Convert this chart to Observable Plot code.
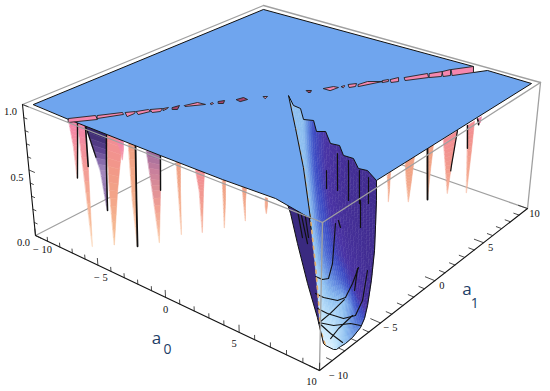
<!doctype html>
<html><head><meta charset="utf-8">
<script src="https://cdn.jsdelivr.net/npm/d3@7"></script>
<script src="https://cdn.jsdelivr.net/npm/@observablehq/plot@0.6"></script>
<style>html,body{margin:0;background:#fff}svg{display:block}</style></head>
<body><div id="chart"></div>
<script>
// ---------- data (a0, a1, z) ----------
const plateA0=[-9.55,-9.52,5.90,6.36,6.83,9.68,9.58,8.67,8.21,7.40,6.83,6.03,5.54,4.52,4.16,3.24,2.76,1.79,1.26,0.24,3.11,6.10,9.37,7.01,3.90,-0.10,-6.69];
const plateA1=[-9.63,9.42,9.66,8.89,9.65,9.56,-5.27,-4.71,-4.81,-4.10,-4.14,-3.38,-3.48,-2.53,-2.82,-1.87,-2.10,-1.12,-1.05,-0.20,-3.21,-6.38,-10.05,-9.60,-9.73,-9.75,-9.74];

// slit blobs on the plate: four (a0,a1) corners per blob
const slit=[
[-6.78,-9.66,-5.97,-8.53,-5.53,-8.80,-6.42,-9.99],
[-5.89,-8.46,-5.15,-7.38,-4.93,-7.52,-5.62,-8.72],
[-5.03,-7.28,-4.71,-6.87,-4.57,-7.08,-4.59,-7.57],
[-4.67,-6.83,-4.36,-6.26,-4.10,-6.37,-4.32,-7.03],
[-4.28,-6.19,-3.87,-5.70,-3.69,-6.04,-3.93,-6.39],
[-3.83,-5.67,-3.72,-5.41,-3.67,-5.54,-3.66,-5.85],
[-3.55,-5.28,-3.44,-4.86,-3.17,-5.30,-3.38,-5.46],
[-3.23,-4.69,-2.96,-3.97,-2.46,-3.89,-3.11,-4.75],
[-2.34,-3.63,-2.34,-3.47,-2.21,-3.53,-2.21,-3.69],
[-2.18,-3.17,-2.01,-2.87,-1.80,-3.20,-2.00,-3.36],
[-1.60,-2.37,-1.48,-1.93,-1.14,-1.99,-1.26,-2.43],
[-0.73,-1.15,-0.56,-1.01,-0.52,-1.15,-0.48,-1.29],
[0.58,0.95,0.79,1.12,0.91,0.87,0.83,0.80],
[1.14,1.75,1.40,2.31,1.69,2.38,1.60,1.77],
[1.74,2.59,1.79,2.81,1.87,2.70,1.91,2.55],
[1.87,3.06,2.14,3.45,2.34,3.08,2.16,2.76],
[2.30,3.41,2.45,4.06,3.10,4.59,2.47,3.18],
[3.02,4.70,3.19,5.03,3.35,4.80,3.18,4.47],
[3.28,5.10,3.47,5.62,3.79,5.15,3.56,4.79],
[3.73,5.83,4.42,7.13,4.78,6.68,4.01,5.51],
[4.51,7.20,4.92,7.91,5.26,7.26,4.82,6.71],
[4.92,7.91,5.12,8.45,5.58,7.70,5.35,7.33],
[5.16,8.48,5.90,9.66,6.36,8.89,5.67,7.77]];
const slitDark=[6,9,10,12];   // blobs that read as dark rose

// spikes on the a1=-9.6 edge: top-left, top-right, waist-left, waist-right, tip as (a0,z)
const spikesLeft=[
[-6.86,.99,-6.18,.99,-6.64,.80,-6.32,.81,-6.54,.56],
[-6.18,.99,-5.58,.99,-6.01,.64,-5.62,.65,-5.78,.08],
[-5.58,.99,-4.04,.99,-4.69,.69,-4.23,.71,-4.37,.41],
[-4.04,.99,-2.88,.99,-4.11,.57,-3.50,.59,-4.03,.17],
[-3.31,.98,-2.82,.98,-3.08,.91,-2.86,.92,-2.98,.84],
[-2.46,.99,-1.96,1.0,-2.43,.57,-2.14,.58,-2.27,.24],
[-1.21,.98,-.25,.99,-.94,.70,-.37,.73,-.64,.34],
[.82,.99,1.09,.99,.87,.78,1.01,.79,.95,.47],
[2.07,.99,2.65,.99,2.28,.84,2.55,.86,2.38,.55],
[3.79,.99,3.98,.99,3.82,.84,3.95,.85,3.84,.65],
[5.03,.99,5.27,.99,5.08,.90,5.20,.90,5.18,.76],
[6.42,.98,6.54,.98,6.41,.92,6.53,.93,6.47,.87]];
// spikes on the a0=9.6 edge, as (a1,z)
const spikesRight=[
[-4.39,.99,-4.13,1.0,-4.23,.87,-4.15,.87,-4.19,.79],
[-2.86,1.0,-2.07,1.0,-2.68,.86,-2.22,.84,-2.39,.69],
[-.91,1.0,-.36,1.0,-.78,.83,-.49,.82,-.60,.61],
[.58,.99,1.91,.99,.95,.78,1.56,.75,1.35,.55],
[2.90,.98,3.61,.98,3.10,.78,3.53,.76,3.35,.45],
[3.91,.98,4.31,.98,4.04,.95,4.26,.94,4.07,.93]];
const spikeKindLeft=[0,0,2,4,0,3,1,3,4,3,3,3];
const spikeKindRight=[3,3,3,4,4,0];

// the pit: 8 rows x 7 columns
const pitZ=[1,.85,.7,.5,.3,.18,.1,.03];
const pitA0=[
[.32,2.22,2.86,4.08,6.18,7.72,9.47],
[1.61,3.10,3.86,5.17,7.03,8.33,9.54],
[3.35,3.86,4.62,5.88,7.47,8.62,9.75],
[5.22,5.30,5.62,6.30,7.52,8.52,9.57],
[6.59,6.53,6.44,6.84,7.64,8.55,9.58],
[7.72,7.48,7.13,7.48,8.15,9.00,9.87],
[8.78,8.57,8.31,8.09,8.63,9.35,9.85],
[9.22,9.72,9.83,9.84,9.88,9.85,9.66]];
const pitA1=[
[-.30,-1.42,-1.39,-1.97,-3.26,-4.12,-5.11],
[-1.32,-2.45,-2.59,-3.29,-4.29,-4.84,-5.14],
[-2.84,-3.15,-3.39,-4.03,-4.75,-5.10,-5.44],
[-4.63,-4.57,-4.31,-4.29,-4.59,-4.79,-5.17],
[-5.96,-5.64,-4.85,-4.54,-4.51,-4.75,-5.35],
[-7.16,-6.44,-5.31,-5.03,-5.09,-5.58,-6.02],
[-8.36,-7.44,-6.53,-5.57,-5.71,-6.27,-6.21],
[-8.52,-8.54,-8.45,-8.14,-7.79,-7.18,-6.25]];
const pitShade=[
[.60,.60,.20,.10,.04,.02,.01],
[.60,.60,.20,.10,.04,.02,.01],
[.62,.58,.22,.10,.04,.02,.01],
[.66,.58,.26,.12,.05,.03,.01],
[.72,.60,.32,.16,.08,.05,.02],
[.80,.68,.45,.30,.16,.10,.05],
[.86,.78,.70,.60,.46,.32,.20],
[.95,.90,.82,.72,.62,.52,.42]];

const wallA0=[3.98,2.91,4.11,6.24,8.85,10.90,12.30];
const wallA1=[-3.88,-3.78,-4.86,-6.98,-9.52,-11.44,-12.83];
const wallZ=.5;

// black creases on the pit walls, pairs of (a0,a1) at z=.5
const creases=[
[4.19,-4.39,6.08,-6.38],[4.31,-4.30,6.63,-6.68],[4.47,-4.17,6.31,-6.19],[4.76,-4.21,6.00,-5.56],
[2.65,.10,3.91,-1.56],[1.87,2.14,4.50,-1.37],[2.87,1.83,5.60,-1.89],[4.05,1.23,6.24,-1.80],
[4.92,.87,6.60,-1.50],[6.45,-3.91,6.95,-4.41],[6.09,-1.50,7.73,-3.78],[9.89,-7.02,10.90,-8.64]];
// mesh curves on the pit floor, (a0,a1) at z=.15
const mesh=[
[6.03,-5.20,6.48,-5.21,6.66,-4.94,5.95,-3.66,3.56,-.22],
[6.99,-6.45,7.53,-6.49,8.23,-6.27,8.38,-5.81,7.90,-4.56,7.24,-3.13],
[7.89,-7.45,8.53,-7.49,9.40,-7.35,9.70,-6.78,9.20,-5.50,7.77,-3.07],
[8.66,-8.37,9.38,-8.12,9.92,-7.48,10.39,-7.32],
[8.75,-8.41,9.67,-8.74,10.55,-8.97],
[9.59,-6.87,9.72,-8.17,9.92,-9.07],
[8.45,-6.00,8.64,-7.40,8.70,-8.40]];
const meshZ=.15;

const a0Ticks=[-10,-5,0,5,10];
const a1Ticks=[-10,-5,0,5,10];
const zTicks=[0,.5,1];

// ---------- box projection ----------
function homog(q){
 const [[x0,y0],[x1,y1],[x2,y2],[x3,y3]]=q;
 const dx1=x1-x2,dx2=x3-x2,sx=x0-x1+x2-x3,dy1=y1-y2,dy2=y3-y2,sy=y0-y1+y2-y3;
 const d=dx1*dy2-dx2*dy1,g=(sx*dy2-dx2*sy)/d,h=(dx1*sy-sx*dy1)/d;
 const a=x1-x0+g*x1,b=x3-x0+h*x3,c=x0,e=y1-y0+g*y1,f=y3-y0+h*y3,i=y0;
 return (u,v)=>{const w=g*u+h*v+1;return[(a*u+b*v+c)/w,(e*u+f*v+i)/w]};
}
const H1=homog([[22,104],[322,222],[540,82],[263,5]]),H0=homog([[35,235],[319,370],[527,208],[265,117]]);
function P(a0,a1,z){const u=(a0+10)/20,v=(a1+10)/20,p=H0(u,v),q=H1(u,v);return[p[0]+(q[0]-p[0])*z,p[1]+(q[1]-p[1])*z]}

const poly=pts=>({type:"Polygon",coordinates:[[...pts,pts[0]]]});
const path=pts=>({type:"LineString",coordinates:pts});
const mix=(a,b,t)=>a+(b-a)*t;
const mixP=(a,b,t)=>[mix(a[0],b[0],t),mix(a[1],b[1],t)];

// ---------- colour ramps ----------
const ramps=[
 d3.scaleLinear([1,.8,.5,.25,.05],["#f383ac","#f3909c","#f3a28c","#f6b48c","#f9cca6"]),
 d3.scaleLinear([1,.85,.6,.4],["#96689e","#c9809c","#f0998c","#f6b48c"]),
 d3.scaleLinear([1,.85,.7,.5,.4],["#2c2060","#5d4290","#a48abf","#8d6fa8","#5e4a78"]),
 d3.scaleLinear([1,.7,.4],["#f0a085","#f3a886","#f6b892"]),
 d3.scaleLinear([1,.7,.3],["#f28c96","#f29a86","#f4ae82"])];
const pitRamp=d3.scaleLinear([0,.1,.2,.4,.6,.8,1],["#402c8e","#4a33a4","#3d4cc4","#5f86de","#8dbff0","#c0e4fb","#eaf8ff"]);

// ---------- geometry ----------
const fills=[], edges=[];
function spike(row,place,kind){
 const tl=row.slice(0,2),tr=row.slice(2,4),ml=row.slice(4,6),mr=row.slice(6,8),tip=row.slice(8,10);
 const side=(t,a,b)=>t<.5?mixP(a,b,t*2):mixP(b,tip,(t-.5)*2);
 const n=14;
 for(let i=0;i<n;i++){
  const t0=i/n,t1=(i+1)/n;
  const a=side(t0,tl,ml),b=side(t0,tr,mr),c=side(t1,tr,mr),d=side(t1,tl,ml);
  const z=(a[1]+b[1]+c[1]+d[1])/4;
  let col=ramps[kind](z);
  if(kind!==2) col=d3.interpolateRgb(col,"#ffffff")(Math.pow((t0+t1)/2,3)*.22);
  fills.push({g:poly([a,b,c,d].map(p=>place(p[0],p[1]))),c:col});
 }
}
const placeL=(a,z)=>P(a,-9.6,z), placeR=(a,z)=>P(9.6,a,z);
spikesLeft.forEach((r,i)=>spike(r,placeL,spikeKindLeft[i]));
spikesRight.forEach((r,i)=>spike(r,placeR,spikeKindRight[i]));

const spikeEdge=(row,place,right,frac)=>{
 const top=right?row.slice(2,4):row.slice(0,2),w=right?row.slice(6,8):row.slice(4,6),tip=row.slice(8,10);
 const out=[];
 for(let i=0;i<=12;i++){const t=i/12*frac;const p=t<.5?mixP(top,w,t*2):mixP(w,tip,(t-.5)*2);out.push(place(p[0],p[1]))}
 return path(out);
};
edges.push(
 {g:spikeEdge(spikesLeft[0],placeL,true,1),w:1.4},
 {g:spikeEdge(spikesLeft[1],placeL,true,.45),w:1.6},
 {g:spikeEdge(spikesLeft[2],placeL,false,.35),w:1.2},
 {g:spikeEdge(spikesLeft[2],placeL,true,1),w:1.5},
 {g:spikeEdge(spikesLeft[5],placeL,true,1),w:1.8},
 {g:spikeEdge(spikesLeft[6],placeL,true,.5),w:1.4},
 {g:spikeEdge(spikesRight[2],placeR,false,1),w:1.8},
 {g:spikeEdge(spikesRight[3],placeR,true,.6),w:1.2},
 {g:spikeEdge(spikesRight[4],placeR,false,.45),w:1.4},
 {g:spikeEdge(spikesRight[5],placeR,false,1),w:1.6});

// pit
const wallFills=[], pitFills=[];
const c0=pitZ.map((z,r)=>P(pitA0[r][0],pitA1[r][0],z));
const wallOuter=wallA0.map((a,i)=>P(a,wallA1[i],wallZ));
wallFills.push({g:poly([...wallOuter,c0[7],c0[6],c0[5],c0[4],c0[3]]),c:"#3a2a80"});
const sub=5;
for(let r=0;r<7;r++)for(let c=0;c<6;c++)for(let i=0;i<sub;i++)for(let j=0;j<sub;j++){
 const b=(m,s,t)=>mix(mix(m[r][c],m[r][c+1],s),mix(m[r+1][c],m[r+1][c+1],s),t);
 const pt=(s,t)=>P(b(pitA0,s,t),b(pitA1,s,t),mix(pitZ[r],pitZ[r+1],t));
 const s0=i/sub,s1=(i+1)/sub,t0=j/sub,t1=(j+1)/sub;
 pitFills.push({g:poly([pt(s0,t0),pt(s1,t0),pt(s1,t1),pt(s0,t1)]),c:pitRamp(b(pitShade,(s0+s1)/2,(t0+t1)/2))});
}
const pitBoundary=[...pitZ.map((z,r)=>P(pitA0[r][6],pitA1[r][6],z)),...[5,4,3,2,1,0].map(c=>P(pitA0[7][c],pitA1[7][c],pitZ[7])),...[...wallOuter].reverse()];
const creaseLines=creases.map(c=>path([P(c[0],c[1],.5),P(c[2],c[3],.5)]));
const meshLines=mesh.map(m=>{const o=[];for(let i=0;i<m.length;i+=2)o.push(P(m[i],m[i+1],meshZ));return path(o)});

const plate=poly(plateA0.map((a,i)=>P(a,plateA1[i],1)));
const blobs=slit.map((b,i)=>({g:poly([0,2,4,6].map(k=>P(b[k],b[k+1],1))),c:slitDark.includes(i)?"#a8456e":"#f587ae"}));

// box
const grayLines=[
 [P(-10,10,0),P(-10,-10,0)],[P(-10,10,0),P(10,10,0)],
 [P(-10,-10,1),P(-10,10,1)],[P(-10,10,1),P(10,10,1)],
 [P(10,10,1),P(10,10,0)]].map(path);
const grayFront=[[P(-10,-10,1),P(10,-10,1)],[P(10,-10,1),P(10,10,1)],[P(10,-10,0),P(10,-10,1)]].map(path);
const axes=[[P(-10,-10,1),P(-10,-10,0)],[P(-10,-10,0),P(10,-10,0)],[P(10,-10,0),P(10,10,0)]].map(path);
const ticks=[];
for(let v=-10;v<=10;v++){
 const major=v%5===0;
 ticks.push(path([P(v,-10,0),P(v,-10,major?.05:.03)]));
 ticks.push(path([P(10,v,0),P(10-(major?.6:.35),v,0)]));
}
for(let k=0;k<=10;k++){const z=k/10;ticks.push(path([P(-10,-10,z),P(-10+(k%5===0?.45:.25),-10,z)]))}

const labelFont={fontFamily:"Liberation Serif",fontSize:10.5,fill:"#111"};
const minus=v=>v<0?"\u2212 "+(-v):String(v);
const aFont={fontFamily:"Open Sans",fill:"#1d3d66"};
const a0Origin=P(0,-10,0), a1Origin=P(10,0,0);
const a0dx=v=>v===-10?7:v===-5?3:v===5?-5:v===10?-8:0, a0dy=v=>v===10?11:v===5?11:v===0?12:v===-5?12:14;

const soft={imageFilter:"blur(0.25px)"};
const geo=(data,o)=>Plot.geo(data,{geometry:d=>d.g??d,...o});

const chart=Plot.plot({
 width:550,height:391,margin:0,
 x:{domain:[0,550],range:[0,550],axis:null},
 y:{domain:[0,391],range:[0,391],axis:null},
 color:{type:"identity"},
 style:{background:"#fff"},
 marks:[
  geo(grayLines,{stroke:"#a0a0a0",strokeWidth:1.3}),
  geo(fills,{fill:d=>d.c,stroke:d=>d.c,strokeWidth:.5,...soft}),
  ...edges.map(e=>geo([e.g],{stroke:"#111",strokeWidth:e.w,...soft})),
  geo(wallFills,{fill:d=>d.c,stroke:"none"}),
  geo(pitFills,{fill:d=>d.c,stroke:d=>d.c,strokeWidth:.5}),
  geo(creaseLines,{stroke:"#111",strokeWidth:1.2,...soft}),
  geo(meshLines,{stroke:"#111",strokeWidth:1.1,strokeLinejoin:"round",...soft}),
  geo([path(c0)],{stroke:"#e4aa66",strokeWidth:1.6,strokeDasharray:"3 5"}),
  geo([path(pitBoundary)],{stroke:"#111",strokeWidth:1,...soft}),
  geo([plate],{fill:"#6fa5ee",stroke:"#111",strokeWidth:1}),
  geo(blobs,{fill:d=>d.c,stroke:"#222",strokeWidth:.9,...soft}),
  geo(grayFront,{stroke:"#a0a0a0",strokeWidth:1.3}),
  geo(axes,{stroke:"#111",strokeWidth:1.1}),
  geo(ticks,{stroke:"#222",strokeWidth:.8}),
  Plot.text(a0Ticks,{x:v=>P(v,-10,0)[0]+a0dx(v),y:v=>P(v,-10,0)[1]+a0dy(v),text:minus,...labelFont}),
  Plot.text(a1Ticks,{x:v=>P(10,v,0)[0]+(v===-10?19:v===-5?10:7),y:v=>P(10,v,0)[1]+5,text:minus,...labelFont}),
  Plot.text(zTicks,{x:z=>P(-10,-10,z)[0]-12,y:z=>P(-10,-10,z)[1]+7.5,text:z=>z.toFixed(1),...labelFont}),
  Plot.text(["a"],{x:()=>a0Origin[0]-9,y:()=>a0Origin[1]+41,fontSize:17,...aFont}),
  Plot.text(["0"],{x:()=>a0Origin[0]+2,y:()=>a0Origin[1]+52,fontSize:14,...aFont}),
  Plot.text(["a"],{x:()=>a1Origin[0]+32,y:()=>a1Origin[1]+9,fontSize:17,...aFont}),
  Plot.text(["1"],{x:()=>a1Origin[0]+40,y:()=>a1Origin[1]+23,fontSize:14,...aFont})
 ]
});
document.getElementById("chart").append(chart);
</script></body></html>
